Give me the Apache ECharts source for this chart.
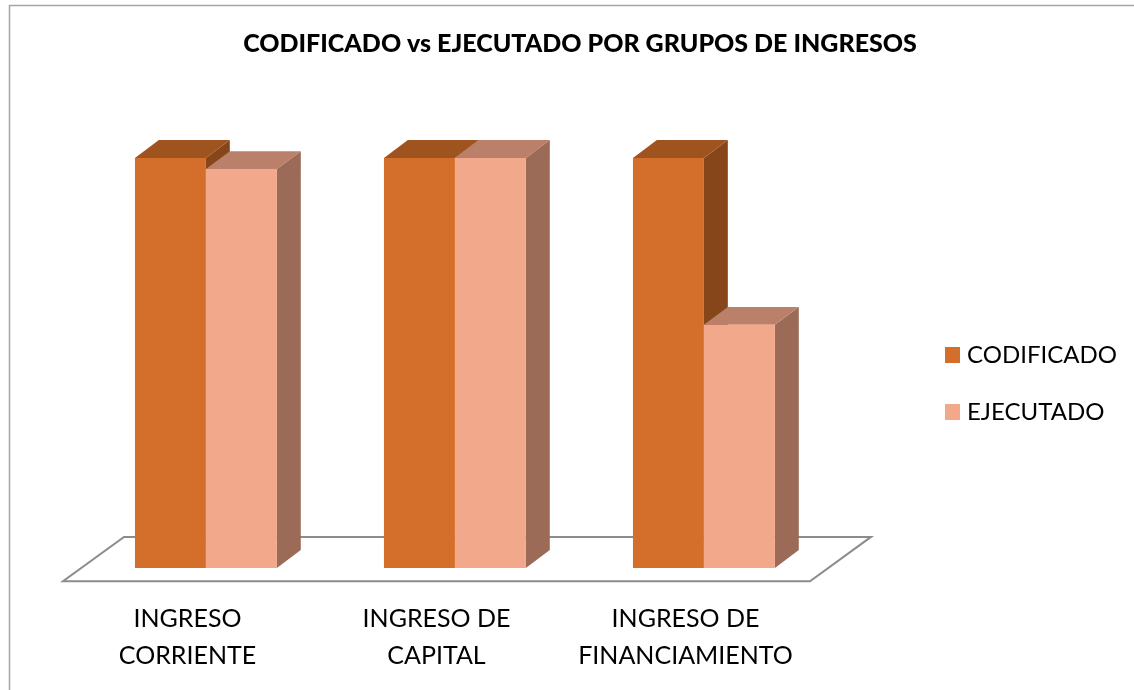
<!DOCTYPE html>
<html>
<head>
<meta charset="utf-8">
<script src="https://cdn.jsdelivr.net/npm/echarts@6/dist/echarts.min.js"></script>
<style>
html,body{margin:0;padding:0;background:#fff;}
#chart{width:1134px;height:690px;}
</style>
</head>
<body>
<div id="chart"></div>
<script>
const categories = ['INGRESO\nCORRIENTE', 'INGRESO DE\nCAPITAL', 'INGRESO DE\nFINANCIAMIENTO'];
const codificado = [100, 100, 100];
const ejecutado = [97.3, 100, 59.3];
const seriesNames = ['CODIFICADO', 'EJECUTADO'];

const FONT = 'Lato, "Open Sans", sans-serif';
const palettes = [
  {front: '#D46F2B', top: '#9F531F', side: '#86461A'},
  {front: '#F2A88B', top: '#BA8069', side: '#9B6B58'}
];

function makeBarRenderer(k) {
  return function (params, api) {
    const ci = api.value(0), v = api.value(1);
    const base = api.coord([ci, 0]);
    const top = api.coord([ci, v]);
    const band = api.size([1, 0])[0];
    const w = band * 0.285;
    const shift = band * 0.074;
    const dx = band * 0.096;
    const dy = dx * 0.75;
    const x0 = base[0] + shift + (k === 0 ? -w : 0);
    const yt = top[1], yb = base[1];
    const p = palettes[k];
    return {
      type: 'group',
      children: [
        {type: 'polygon', shape: {points: [[x0 + w, yt], [x0 + w + dx, yt - dy], [x0 + w + dx, yb - dy], [x0 + w, yb]]}, style: {fill: p.side}},
        {type: 'polygon', shape: {points: [[x0, yt], [x0 + dx, yt - dy], [x0 + w + dx, yt - dy], [x0 + w, yt]]}, style: {fill: p.top}},
        {type: 'rect', shape: {x: x0, y: yt, width: w, height: yb - yt}, style: {fill: p.front}}
      ]
    };
  };
}

function renderFloor(params, api) {
  const band = api.size([1, 0])[0];
  const l = api.coord([0, 0]);
  const r = api.coord([categories.length - 1, 0]);
  const xl = l[0] - band / 2, xr = r[0] + band / 2;
  const yf = l[1] + band * 0.053, yk = l[1] - band * 0.125;
  const off = band * 0.245;
  return {
    type: 'polygon',
    shape: {points: [[xl, yf], [xr, yf], [xr + off, yk], [xl + off, yk]]},
    style: {fill: '#fff', stroke: '#8C8C8C', lineWidth: 2}
  };
}

const chart = echarts.init(document.getElementById('chart'));
chart.setOption({
  animation: false,
  backgroundColor: '#fff',
  graphic: [{
    type: 'rect', left: 7, top: 3, shape: {width: 1140, height: 700},
    style: {fill: 'none', stroke: '#A6A6A6', lineWidth: 1.5}, z: 100
  }],
  title: {
    text: 'CODIFICADO vs EJECUTADO POR GRUPOS DE INGRESOS',
    left: 575, top: 26, textAlign: 'center',
    textStyle: {fontFamily: FONT, fontWeight: 900, fontSize: 25, color: '#000'}
  },
  legend: {
    orient: 'vertical', left: 940, top: 338,
    itemWidth: 15, itemHeight: 16, itemGap: 33, icon: 'rect',
    data: seriesNames,
    textStyle: {fontFamily: FONT, fontSize: 24, color: '#000', padding: [0, 0, 0, 2]}
  },
  grid: {left: 63, right: 324, top: 158, bottom: 122},
  xAxis: {
    type: 'category', data: categories,
    axisLine: {show: false}, axisTick: {show: false}, splitLine: {show: false},
    axisLabel: {fontFamily: FONT, fontSize: 25, color: '#000', margin: 32, lineHeight: 37, interval: 0}
  },
  yAxis: {type: 'value', min: 0, max: 100, show: false},
  series: [
    {type: 'custom', name: '_floor', renderItem: renderFloor, data: [[0, 0]], z: 1, silent: true},
    {type: 'custom', name: seriesNames[0], itemStyle: {color: palettes[0].front},
     renderItem: makeBarRenderer(0), data: codificado.map((v, i) => [i, v]), z: 2},
    {type: 'custom', name: seriesNames[1], itemStyle: {color: palettes[1].front},
     renderItem: makeBarRenderer(1), data: ejecutado.map((v, i) => [i, v]), z: 3}
  ]
});
</script>
</body>
</html>
